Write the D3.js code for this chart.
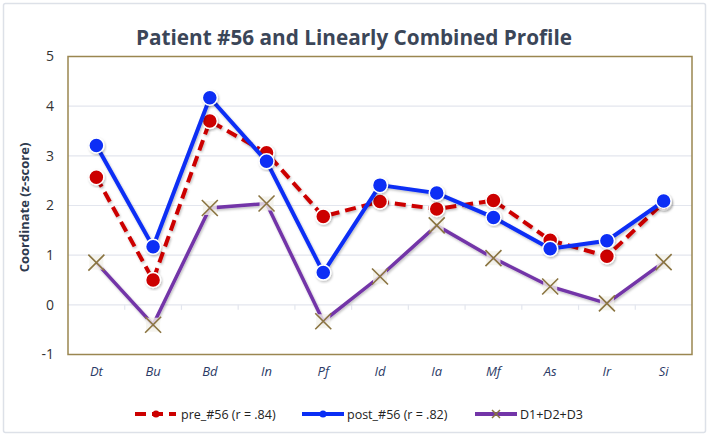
<!DOCTYPE html>
<html><head><meta charset="utf-8">
<script src="https://cdn.jsdelivr.net/npm/d3@7/dist/d3.min.js"></script>
<style>body{margin:0;background:#fff;} svg{display:block;}</style>
</head><body><svg id="c" width="709" height="437"></svg>
<script>
const categories = ["Dt","Bu","Bd","In","Pf","Id","Ia","Mf","As","Ir","Si"];
const preValues  = [2.57,0.50,3.70,3.06,1.78,2.08,1.93,2.10,1.30,0.98,2.06];
const postValues = [3.21,1.17,4.17,2.89,0.65,2.41,2.25,1.76,1.13,1.29,2.09];
const dValues    = [0.85,-0.40,1.95,2.04,-0.33,0.57,1.60,0.94,0.37,0.03,0.86];
const yTicks = [-1,0,1,2,3,4,5];
const seriesNames = ["pre_#56 (r = .84)","post_#56 (r = .82)","D1+D2+D3"];

const svg = d3.select("#c");
const m = {l:68, r:692, t:56.5, b:354.5};
const x = d3.scaleBand().domain(categories).range([m.l, m.r]);
const y = d3.scaleLinear().domain([-1,5]).range([m.b, m.t]);
const cx = d => x(d) + x.bandwidth()/2;

// outer frame
svg.append("rect").attr("x",3.5).attr("y",3.5).attr("width",702).attr("height",429)
  .attr("fill","#fff").attr("stroke","#dde1e8").attr("stroke-width",1.5).attr("rx",2);

// title
svg.append("text").attr("x",354).attr("y",45).attr("text-anchor","middle")
  .attr("font-family","Open Sans, sans-serif").attr("font-weight","bold").attr("font-size",22)
  .attr("textLength",436).attr("lengthAdjust","spacingAndGlyphs")
  .attr("fill","#3b4658").text("Patient #56 and Linearly Combined Profile");

// gridlines
svg.append("g").selectAll("line").data(yTicks.filter(t=>t>-1&&t<5)).join("line")
  .attr("x1",m.l).attr("x2",m.r).attr("y1",d=>y(d)).attr("y2",d=>y(d))
  .attr("stroke","#e3e6ee").attr("stroke-width",1.2);
// ticks at zero axis
svg.append("g").selectAll("line").data(categories.slice(1)).join("line")
  .attr("x1",d=>x(d)).attr("x2",d=>x(d)).attr("y1",y(0)).attr("y2",y(0)+5)
  .attr("stroke","#e3e6ee").attr("stroke-width",1.2);

// plot border
svg.append("rect").attr("x",m.l).attr("y",m.t).attr("width",m.r-m.l).attr("height",m.b-m.t)
  .attr("fill","none").attr("stroke","#9a8650").attr("stroke-width",1.5);

// y axis labels
const yAxis = d3.axisLeft(y).tickValues(yTicks).tickFormat(d => String(d)).tickSize(0).tickPadding(14);
const ga = svg.append("g").attr("transform",`translate(${m.l},0)`).call(yAxis);
ga.select(".domain").remove();
ga.selectAll("text").attr("font-family","Open Sans, sans-serif").attr("font-size",14).attr("fill","#333");

svg.append("text").attr("transform",`translate(29,${(m.t+m.b)/2+2}) rotate(-90)`)
  .attr("text-anchor","middle").attr("font-family","Open Sans, sans-serif").attr("font-weight","bold")
  .attr("font-size",13).attr("fill","#2e3a4e").text("Coordinate (z-score)");

// x axis labels
const xAxis = d3.axisBottom(x).tickSize(0).tickPadding(12);
const gx = svg.append("g").attr("transform",`translate(0,${m.b})`).call(xAxis);
gx.select(".domain").remove();
gx.selectAll("text").attr("font-family","Open Sans, sans-serif").attr("font-style","italic")
  .attr("font-size",13).attr("fill","#2b3a66");

const line = d3.line().x((d,i)=>cx(categories[i])).y(d=>y(d));

// shadow filter
const defs = svg.append("defs");
const f = defs.append("filter").attr("id","sh").attr("x","-20%").attr("y","-20%").attr("width","140%").attr("height","140%");
f.append("feDropShadow").attr("dx",1).attr("dy",1.5).attr("stdDeviation",1.2).attr("flood-color","#000").attr("flood-opacity",0.25);

// D series
svg.append("path").datum(dValues).attr("d",line).attr("fill","none")
  .attr("stroke","#7335a8").attr("stroke-width",3.5).attr("filter","url(#sh)");
const xm = svg.append("g").selectAll("g").data(dValues).join("g")
  .attr("transform",(d,i)=>`translate(${cx(categories[i])},${y(d)})`);
xm.append("rect").attr("x",-7).attr("y",-7).attr("width",14).attr("height",14).attr("fill","#f3f1ea").attr("opacity",0.8);
xm.append("path").attr("d","M-8,-8L8,8M-8,8L8,-8").attr("stroke","#8a7440").attr("stroke-width",1.6);

// pre series (red dashed)
svg.append("path").datum(preValues).attr("d",line).attr("fill","none")
  .attr("stroke","#cc0000").attr("stroke-width",4).attr("stroke-dasharray","11,6").attr("filter","url(#sh)");
svg.append("g").selectAll("circle").data(preValues).join("circle")
  .attr("cx",(d,i)=>cx(categories[i])).attr("cy",d=>y(d)).attr("r",7.5)
  .attr("fill","#cc0000").attr("stroke","#fff").attr("stroke-width",1.5).attr("filter","url(#sh)");

// post series (blue)
svg.append("path").datum(postValues).attr("d",line).attr("fill","none")
  .attr("stroke","#0a2ef5").attr("stroke-width",4).attr("filter","url(#sh)");
svg.append("g").selectAll("circle").data(postValues).join("circle")
  .attr("cx",(d,i)=>cx(categories[i])).attr("cy",d=>y(d)).attr("r",7.5)
  .attr("fill","#0a2ef5").attr("stroke","#fff").attr("stroke-width",1.5).attr("filter","url(#sh)");

// legend
const ly = 414;
const lg = svg.append("g").attr("font-family","Open Sans, sans-serif").attr("font-size",12.5).attr("fill","#222");
lg.append("path").attr("d",`M135,${ly}H176`).attr("stroke","#cc0000").attr("stroke-width",4).attr("stroke-dasharray","11,6");
lg.append("circle").attr("cx",156).attr("cy",ly).attr("r",3.5).attr("fill","#cc0000");
lg.append("text").attr("x",181).attr("y",ly+5).text(seriesNames[0]);
lg.append("path").attr("d",`M302,${ly}H344`).attr("stroke","#0a2ef5").attr("stroke-width",4);
lg.append("circle").attr("cx",323).attr("cy",ly).attr("r",3.5).attr("fill","#0a2ef5");
lg.append("text").attr("x",347).attr("y",ly+5).text(seriesNames[1]);
lg.append("path").attr("d",`M475,${ly}H517`).attr("stroke","#7335a8").attr("stroke-width",4);
lg.append("path").attr("d",`M492,${ly-4}L500,${ly+4}M492,${ly+4}L500,${ly-4}`).attr("stroke","#8a7440").attr("stroke-width",1.5);
lg.append("text").attr("x",520).attr("y",ly+5).text(seriesNames[2]);
</script></body></html>
